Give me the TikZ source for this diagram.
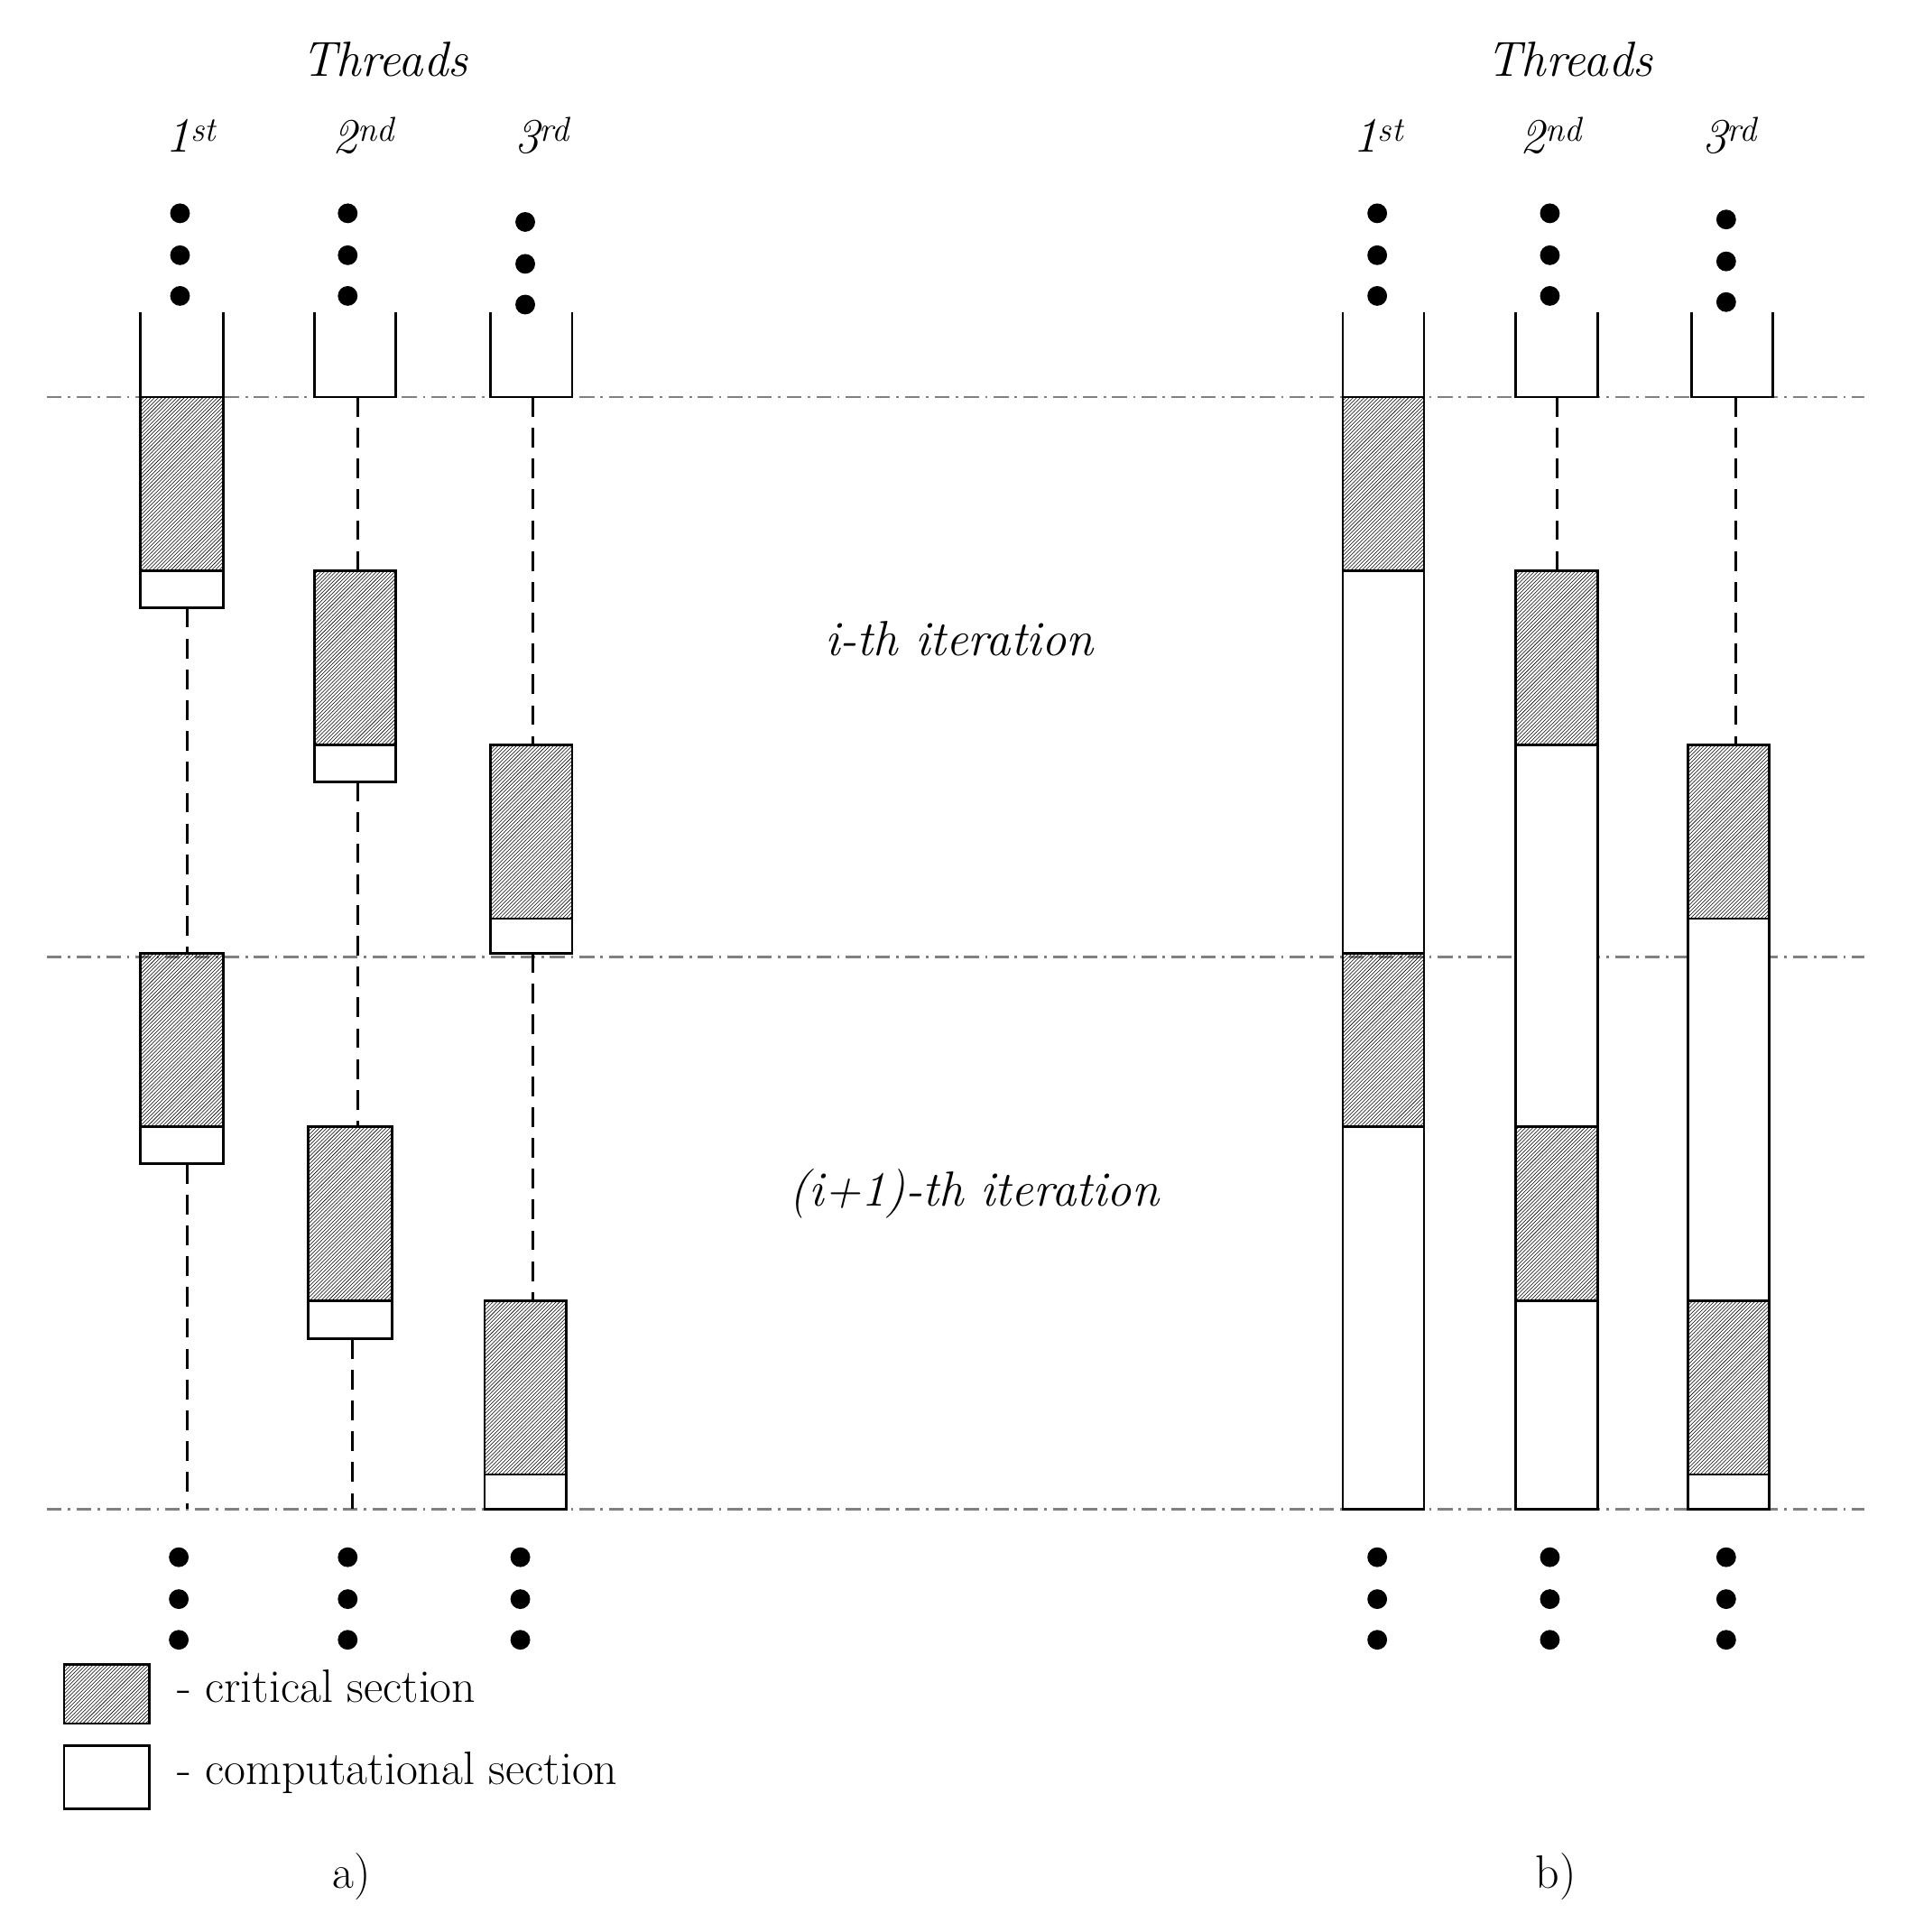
\documentclass[tikz,border=0pt]{standalone}
\usetikzlibrary{patterns}
\tikzset{%
  % styles of the picture
  crit/.style={draw,line width=2pt,pattern=north east lines},
  comp/.style={draw,line width=2pt,fill=white},
  wait/.style={line width=2pt,dash pattern=on 16pt off 9pt},
  sep/.style={line width=2pt,gray,dash pattern=on 12pt off 5pt on 2pt off 5pt},
  lbl/.style={font=\fontsize{40}{42}\selectfont\itshape},
  txt/.style={font=\fontsize{38}{40}\selectfont,anchor=west},
}
\begin{document}
\begin{tikzpicture}[x=1pt,y=-1pt]
  \useasboundingbox (0,0) rectangle (1545,1567);
  % separators
  \foreach \y in {322,776,1224}
    \draw[sep] (38,\y) -- (1512,\y);
  % headers
  \node[lbl] (thra) at (312,48) {Threads};
  \node[lbl] (thrb) at (1273,48) {Threads};
  \foreach \x/\n/\s [count=\i] in {155/1/st,295/2/nd,440/3/rd,1118/1/st,1258/2/nd,1403/3/rd}
    \node[lbl] (ord\i) at (\x,110) {\n\textsuperscript{\s}};
  % dots
  \foreach \x/\y in {146/173,282/173,426/180,1117/173,1257/173,1400/178,145/1263,282/1263,422/1263,1117/1263,1257/1263,1400/1263}
    \foreach \d in {0,34,67}
      \fill (\x,\y+\d) circle (8);
  % top brackets
  \draw[line width=2pt] (114,253) -- (114,322) (181,253) -- (181,322);
  \draw[line width=2pt] (255,253) -- (255,322) -- (321,322) -- (321,253);
  \draw[line width=2pt] (398,253) -- (398,322) -- (464,322) -- (464,253);
  \draw[line width=2pt] (1089,253) -- (1089,322) (1155,253) -- (1155,322);
  \draw[line width=2pt] (1229,253) -- (1229,322) -- (1296,322) -- (1296,253);
  \draw[line width=2pt] (1372,253) -- (1372,322) -- (1438,322) -- (1438,253);
  % a) waiting
  \draw[wait] (152,493) -- (152,773) (152,944) -- (152,1224);
  \draw[wait] (290,322) -- (290,463) (290,634) -- (290,914) (286,1086) -- (286,1224);
  \draw[wait] (432,322) -- (432,604) (432,773) -- (432,1055);
  % a) sections
  \foreach \xa/\xb/\ya/\yb/\yc in {114/181/322/463/493, 114/181/773/914/944,
      255/321/463/604/634, 250/318/914/1055/1086,
      398/464/604/745/773, 393/459/1055/1196/1224} {
    \draw[crit] (\xa,\ya) rectangle (\xb,\yb);
    \draw[comp] (\xa,\yb) rectangle (\xb,\yc);
  }
  % b) waiting
  \draw[wait] (1263,322) -- (1263,463);
  \draw[wait] (1408,322) -- (1408,604);
  % b) sections
  \foreach \xa/\xb/\ya/\yb/\yc in {1089/1155/322/463/773, 1089/1155/773/914/1224,
      1229/1296/463/604/914, 1229/1296/914/1055/1224,
      1369/1435/604/745/1055, 1369/1435/1055/1196/1224} {
    \draw[crit] (\xa,\ya) rectangle (\xb,\yb);
    \draw[comp] (\xa,\yb) rectangle (\xb,\yc);
  }
  % iterations
  \node[lbl] (iti) at (778,518) {i-th iteration};
  \node[lbl] (itn) at (790,968) {(i+1)-th iteration};
  % legend
  \draw[crit] (52,1350) rectangle (121,1398);
  \node[txt] (lcrit) at (140,1368) {- critical section};
  \draw[comp] (52,1416) rectangle (121,1467);
  \node[txt] (lcomp) at (140,1438) {- computational section};
  \node[txt,anchor=center] (capa) at (285,1522) {a)};
  \node[txt,anchor=center] (capb) at (1262,1522) {b)};
\end{tikzpicture}
\end{document}
